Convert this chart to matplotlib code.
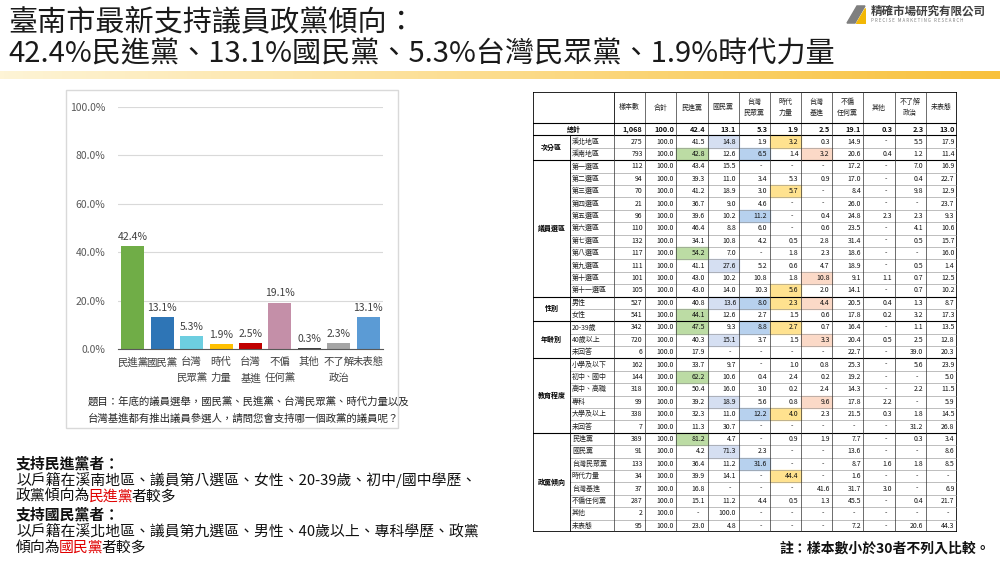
import numpy as np
import matplotlib.pyplot as plt
from matplotlib.patches import Rectangle, Polygon
from matplotlib.colors import LinearSegmentedColormap

plt.rcParams['font.family'] = ['Noto Sans CJK TC', 'DejaVu Sans']

# --- bar chart data ---
parties = ['民進黨', '國民黨', '台灣\n民眾黨', '時代\n力量', '台灣\n基進', '不偏\n任何黨', '其他', '不了解\n政治', '未表態']
support = [42.4, 13.1, 5.3, 1.9, 2.5, 19.1, 0.3, 2.3, 13.1]
bar_colors = ['#70ad47', '#2e75b6', '#6dcee0', '#ffc000', '#c00000', '#c48fa8', '#404040', '#a5a5a5', '#5b9bd5']
y_ticks = [0, 20, 40, 60, 80, 100]

# --- crosstab data (None = '-') ---
col_heads = ['樣本數', '合計', '民進黨', '國民黨', '台灣\n民眾黨', '時代\n力量', '台灣\n基進', '不偏\n任何黨', '其他', '不了解\n政治', '未表態']
total_row = [1068, 100.0, 42.4, 13.1, 5.3, 1.9, 2.5, 19.1, 0.3, 2.3, 13.0]

area_rows = [
    ('溪北地區', [275, 100.0, 41.5, 14.8, 1.9, 3.2, 0.3, 14.9, None, 5.5, 17.9]),
    ('溪南地區', [793, 100.0, 42.8, 12.6, 6.5, 1.4, 3.2, 20.6, 0.4, 1.2, 11.4]),
]
district_rows = [
    ('第一選區', [112, 100.0, 43.4, 15.5, None, None, None, 17.2, None, 7.0, 16.9]),
    ('第二選區', [94, 100.0, 39.3, 11.0, 3.4, 5.3, 0.9, 17.0, None, 0.4, 22.7]),
    ('第三選區', [70, 100.0, 41.2, 18.9, 3.0, 5.7, None, 8.4, None, 9.8, 12.9]),
    ('第四選區', [21, 100.0, 36.7, 9.0, 4.6, None, None, 26.0, None, None, 23.7]),
    ('第五選區', [96, 100.0, 39.6, 10.2, 11.2, None, 0.4, 24.8, 2.3, 2.3, 9.3]),
    ('第六選區', [110, 100.0, 46.4, 8.8, 6.0, None, 0.6, 23.5, None, 4.1, 10.6]),
    ('第七選區', [132, 100.0, 34.1, 10.8, 4.2, 0.5, 2.8, 31.4, None, 0.5, 15.7]),
    ('第八選區', [117, 100.0, 54.2, 7.0, None, 1.8, 2.3, 18.6, None, None, 16.0]),
    ('第九選區', [111, 100.0, 41.1, 27.6, 5.2, 0.6, 4.7, 18.9, None, 0.5, 1.4]),
    ('第十選區', [101, 100.0, 43.0, 10.2, 10.8, 1.8, 10.8, 9.1, 1.1, 0.7, 12.5]),
    ('第十一選區', [105, 100.0, 43.0, 14.0, 10.3, 5.6, 2.0, 14.1, None, 0.7, 10.2]),
]
gender_rows = [
    ('男性', [527, 100.0, 40.8, 13.6, 8.0, 2.3, 4.4, 20.5, 0.4, 1.3, 8.7]),
    ('女性', [541, 100.0, 44.1, 12.6, 2.7, 1.5, 0.6, 17.8, 0.2, 3.2, 17.3]),
]
age_rows = [
    ('20-39歲', [342, 100.0, 47.5, 9.3, 8.8, 2.7, 0.7, 16.4, None, 1.1, 13.5]),
    ('40歲以上', [720, 100.0, 40.3, 15.1, 3.7, 1.5, 3.3, 20.4, 0.5, 2.5, 12.8]),
    ('未回答', [6, 100.0, 17.9, None, None, None, None, 22.7, None, 39.0, 20.3]),
]
edu_rows = [
    ('小學及以下', [162, 100.0, 33.7, 9.7, None, 1.0, 0.8, 25.3, None, 5.6, 23.9]),
    ('初中、國中', [144, 100.0, 62.2, 10.6, 0.4, 2.4, 0.2, 19.2, None, None, 5.0]),
    ('高中、高職', [318, 100.0, 50.4, 16.0, 3.0, 0.2, 2.4, 14.3, None, 2.2, 11.5]),
    ('專科', [99, 100.0, 39.2, 18.9, 5.6, 0.8, 9.6, 17.8, 2.2, None, 5.9]),
    ('大學及以上', [338, 100.0, 32.3, 11.0, 12.2, 4.0, 2.3, 21.5, 0.3, 1.8, 14.5]),
    ('未回答', [7, 100.0, 11.3, 30.7, None, None, None, None, None, 31.2, 26.8]),
]
party_rows = [
    ('民進黨', [389, 100.0, 81.2, 4.7, None, 0.9, 1.9, 7.7, None, 0.3, 3.4]),
    ('國民黨', [91, 100.0, 4.2, 71.3, 2.3, None, None, 13.6, None, None, 8.6]),
    ('台灣民眾黨', [133, 100.0, 36.4, 11.2, 31.6, None, None, 8.7, 1.6, 1.8, 8.5]),
    ('時代力量', [34, 100.0, 39.9, 14.1, None, 44.4, None, 1.6, None, None, None]),
    ('台灣基進', [37, 100.0, 16.8, None, None, None, 41.6, 31.7, 3.0, None, 6.9]),
    ('不偏任何黨', [287, 100.0, 15.1, 11.2, 4.4, 0.5, 1.3, 45.5, None, 0.4, 21.7]),
    ('其他', [2, 100.0, None, 100.0, None, None, None, None, None, None, None]),
    ('未表態', [95, 100.0, 23.0, 4.8, None, None, None, 7.2, None, 20.6, 44.3]),
]
groups = [('次分區', area_rows), ('議員選區', district_rows), ('性別', gender_rows),
          ('年齡別', age_rows), ('教育程度', edu_rows), ('政黨傾向', party_rows)]

# highlighted cells: (group, row label) -> columns
highlights = {
    ('次分區', '溪北地區'): ['國民黨', '時代力量'],
    ('次分區', '溪南地區'): ['民進黨', '台灣民眾黨', '台灣基進'],
    ('議員選區', '第三選區'): ['時代力量'],
    ('議員選區', '第五選區'): ['台灣民眾黨'],
    ('議員選區', '第八選區'): ['民進黨'],
    ('議員選區', '第九選區'): ['國民黨'],
    ('議員選區', '第十選區'): ['台灣基進'],
    ('議員選區', '第十一選區'): ['時代力量'],
    ('性別', '男性'): ['國民黨', '台灣民眾黨', '時代力量', '台灣基進'],
    ('性別', '女性'): ['民進黨'],
    ('年齡別', '20-39歲'): ['民進黨', '台灣民眾黨', '時代力量'],
    ('年齡別', '40歲以上'): ['國民黨', '台灣基進'],
    ('教育程度', '初中、國中'): ['民進黨'],
    ('教育程度', '專科'): ['國民黨', '台灣基進'],
    ('教育程度', '大學及以上'): ['台灣民眾黨', '時代力量'],
    ('政黨傾向', '民進黨'): ['民進黨'],
    ('政黨傾向', '國民黨'): ['國民黨'],
    ('政黨傾向', '台灣民眾黨'): ['台灣民眾黨'],
    ('政黨傾向', '時代力量'): ['時代力量'],
}
hl_colors = {'民進黨': '#bcdca4', '國民黨': '#d5dff2', '台灣民眾黨': '#b7d1ee',
             '時代力量': '#ffe28f', '台灣基進': '#fbd9c7'}

fig = plt.figure(figsize=(10, 5.62), dpi=100)
fig.patch.set_facecolor('white')

# title
fig.text(0.008, 1 - 22 / 562, '臺南市最新支持議員政黨傾向：', fontsize=21, va='center', color='#1a1a1a')
fig.text(0.008, 1 - 55 / 562, '42.4%民進黨、13.1%國民黨、5.3%台灣民眾黨、1.9%時代力量',
         fontsize=21, va='center', color='#1a1a1a')

# gradient stripe
grad = fig.add_axes([0, 1 - 79 / 562, 1, 8 / 562])
cmap = LinearSegmentedColormap.from_list('g', ['#fef4d6', '#fcdc8c', '#f8c13c'])
grad.imshow(np.linspace(0, 1, 256)[None, :], aspect='auto', cmap=cmap)
grad.axis('off')

# logo
logo = fig.add_axes([0.846, 1 - 24 / 562, 0.02, 19 / 562])
logo.set_xlim(0, 1)
logo.set_ylim(0, 1)
logo.add_patch(Polygon([[0.05, 0.05], [0.55, 0.95], [0.95, 0.95], [0.45, 0.05]], color='#7f7f7f'))
logo.add_patch(Polygon([[0.5, 0.05], [0.95, 0.05], [0.95, 0.85]], color='#f2b705'))
logo.axis('off')
fig.text(0.871, 1 - 11 / 562, '精確市場研究有限公司', fontsize=8.3, weight='bold', color='#404040', va='center')
fig.text(0.871, 1 - 21 / 562, 'P R E C I S E   M A R K E T I N G   R E S E A R C H', fontsize=3.2,
         color='#808080', va='center')

# chart panel
fig.add_artist(Rectangle((0.066, 1 - 428 / 562), 0.332, 338 / 562, transform=fig.transFigure,
                         fill=False, ec='#d9d9d9', lw=1))
ax = fig.add_axes([0.118, 1 - 349 / 562, 0.265, 242 / 562])
x = np.arange(len(parties))
ax.bar(x, support, width=0.78, color=bar_colors, zorder=3)
for i, v in enumerate(support):
    ax.text(i, v + 1.8, f'{v}%', ha='center', va='bottom', fontsize=7.5, color='#404040')
ax.set_xlim(-0.5, len(parties) - 0.5)
ax.set_ylim(0, 100)
ax.set_yticks(y_ticks)
ax.set_yticklabels([f'{t:.1f}%' for t in y_ticks], fontsize=7.5, color='#595959')
ax.set_xticks(x)
ax.set_xticklabels(parties, fontsize=7.5, color='#404040', linespacing=1.7)
ax.tick_params(length=0, pad=6)
ax.tick_params(axis='y', pad=9)
ax.grid(axis='y', color='#d9d9d9', lw=0.8, zorder=0)
for s in ['top', 'right', 'left']:
    ax.spines[s].set_visible(False)
ax.spines['bottom'].set_color('#595959')
ax.spines['bottom'].set_zorder(4)

fig.text(0.088, 1 - 402 / 562, '題目：年底的議員選舉，國民黨、民進黨、台灣民眾黨、時代力量以及',
         fontsize=7.5, va='center', color='#262626')
fig.text(0.088, 1 - 419 / 562, '台灣基進都有推出議員參選人，請問您會支持哪一個政黨的議員呢？',
         fontsize=7.5, va='center', color='#262626')

# left notes with red highlights
renderer = fig.canvas.get_renderer()


def rich_line(y, parts, weight='normal'):
    xpos = 0.016
    for txt, col in parts:
        t = fig.text(xpos, 1 - y / 562, txt, fontsize=10.7, color=col, weight=weight, va='center')
        bb = t.get_window_extent(renderer=renderer)
        xpos = (bb.x1 - 1.8) / fig.bbox.width


rich_line(463, [('支持民進黨者：', '#111111')], weight='bold')
rich_line(480, [('以戶籍在溪南地區、議員第八選區、女性、20-39歲、初中/國中學歷、', '#111111')])
rich_line(497, [('政黨傾向為', '#111111'), ('民進黨', '#e00000'), ('者較多', '#111111')])
rich_line(514, [('支持國民黨者：', '#111111')], weight='bold')
rich_line(531, [('以戶籍在溪北地區、議員第九選區、男性、40歲以上、專科學歷、政黨', '#111111')])
rich_line(548, [('傾向為', '#111111'), ('國民黨', '#e00000'), ('者較多', '#111111')])

fig.text(0.99, 1 - 549 / 562, '註：樣本數小於30者不列入比較。', ha='right', va='center',
         fontsize=10, weight='bold', color='#111111')

# crosstab table
widths = [37, 44] + [31.2] * len(col_heads)
edges = np.concatenate([[0], np.cumsum(widths)])
head_h, row_h = 31, 12.4
n_rows = 1 + sum(len(r) for _, r in groups)
tot_w, tot_h = edges[-1], head_h + n_rows * row_h
tab = fig.add_axes([533 / 1000, (562 - 532) / 562, 424 / 1000, 440 / 562])
tab.set_xlim(0, tot_w)
tab.set_ylim(tot_h, 0)
tab.axis('off')
fs = 5
keys = [h.replace('\n', '') for h in col_heads]


def fmt(j, v):
    if v is None:
        return '-'
    if j == 0:
        return f'{v:,}'
    return f'{v:.1f}'


for j, h in enumerate(col_heads):
    tab.text((edges[j + 2] + edges[j + 3]) / 2, head_h / 2, h, ha='center', va='center',
             fontsize=fs, linespacing=1.5, color='#222222')


def draw_values(yc, vals, weight='normal'):
    for j, v in enumerate(vals):
        s = fmt(j, v)
        xr = edges[j + 3] - (8 if s == '-' else 2.5)
        tab.text(xr, yc, s, ha='right', va='center', fontsize=fs + (0.3 if weight == 'bold' else 0),
                 weight=weight, color='#111111')


y0 = head_h
tab.text(edges[2] / 2, y0 + row_h / 2, '總計', ha='center', va='center', fontsize=fs, weight='bold')
draw_values(y0 + row_h / 2, total_row, 'bold')
tab.plot([0, tot_w], [y0 + row_h, y0 + row_h], color='black', lw=0.8)
tab.plot([edges[2], edges[2]], [0, y0 + row_h], color='black', lw=0.6)
y0 += row_h
for gname, rows in groups:
    gy = y0
    for k, (lab, vals) in enumerate(rows):
        for c in highlights.get((gname, lab), []):
            j = keys.index(c)
            tab.add_patch(Rectangle((edges[j + 2], y0), widths[j + 2], row_h, color=hl_colors[c], zorder=0))
        tab.text(edges[1] + 2, y0 + row_h / 2, lab, ha='left', va='center', fontsize=fs, color='#222222')
        draw_values(y0 + row_h / 2, vals)
        y0 += row_h
        if k < len(rows) - 1:
            tab.plot([edges[1], tot_w], [y0, y0], color='#8c8c8c', lw=0.4)
    tab.text(edges[1] / 2, (gy + y0) / 2, gname, ha='center', va='center', fontsize=fs, weight='bold')
    tab.plot([0, tot_w], [y0, y0], color='black', lw=0.8)
    tab.plot([edges[1], edges[1]], [gy, y0], color='black', lw=0.6)

for e in edges[2:-1]:
    tab.plot([e, e], [0, tot_h], color='#333333', lw=0.5)
tab.plot([0, tot_w], [head_h, head_h], color='black', lw=0.8)
tab.add_patch(Rectangle((0, 0), tot_w, tot_h, fill=False, ec='black', lw=1.2))

fig.savefig('out.png', dpi=100, facecolor='white')
